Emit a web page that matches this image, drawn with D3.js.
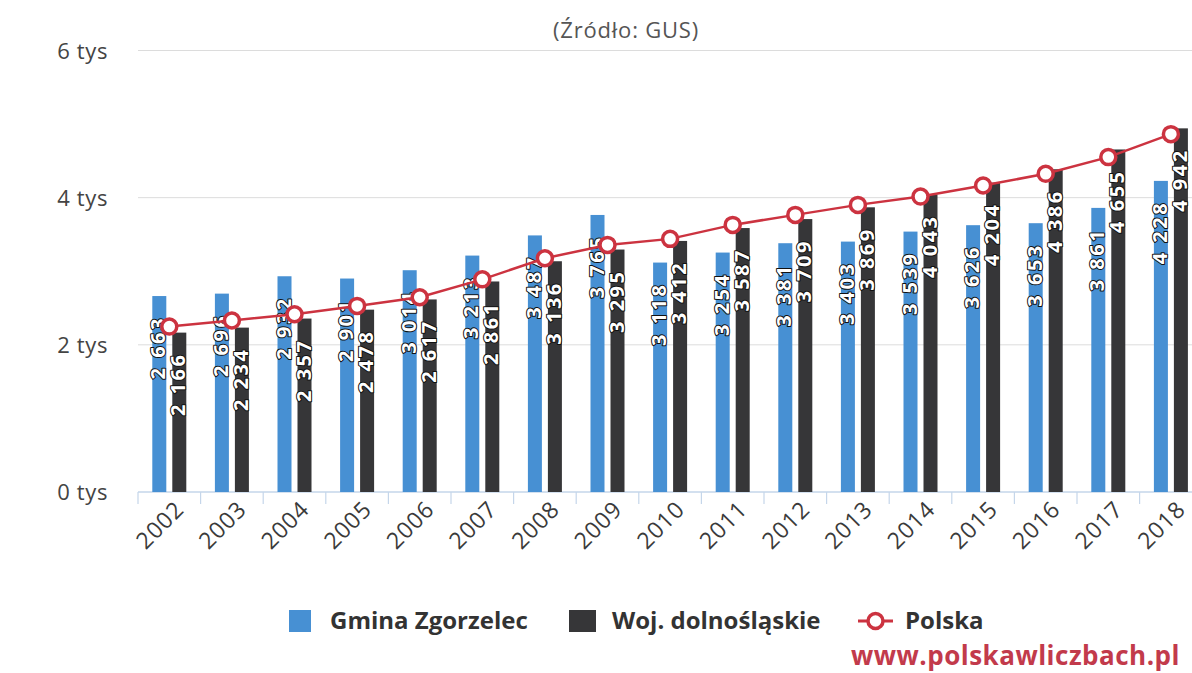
<!DOCTYPE html>
<html>
<head>
<meta charset="utf-8">
<script src="https://cdn.jsdelivr.net/npm/d3@7"></script>
<style>
  body { margin: 0; background: #fff; }
  svg { display: block; font-family: "Open Sans", "DejaVu Sans", sans-serif; }
</style>
</head>
<body>
<div id="page"></div>
<script>
// data (values in zł)
var years = ['2002', '2003', '2004', '2005', '2006', '2007', '2008', '2009', '2010',
    '2011', '2012', '2013', '2014', '2015', '2016', '2017', '2018'];
var gmina = [2663, 2696, 2932, 2901, 3014, 3213, 3487, 3765, 3118,
    3254, 3381, 3403, 3539, 3626, 3653, 3861, 4228];
var woj = [2166, 2234, 2357, 2478, 2617, 2861, 3136, 3295, 3412,
    3587, 3709, 3869, 4043, 4204, 4386, 4655, 4942];
var polska = [2248, 2330, 2416, 2529, 2647, 2890, 3177, 3358, 3440,
    3630, 3766, 3902, 4015, 4165, 4324, 4551, 4863];
var yTicks = [0, 2000, 4000, 6000];
var seriesNames = ['Gmina Zgorzelec', 'Woj. dolnośląskie', 'Polska'];

var W = 1192, H = 673;
var colBlue = '#4790d3', colDark = '#363638', colRed = '#cc3340';

var svg = d3.select('#page').append('svg').attr('width', W).attr('height', H);
svg.append('rect').attr('width', W).attr('height', H).attr('fill', '#fff');

var x = d3.scaleBand().domain(years).range([138, 138 + 17 * 62.6]).padding(0);
var x1 = d3.scaleBand().domain([0, 1]).range([-17, 17]).paddingInner(0.3);
var y = d3.scaleLinear().domain([0, 6000]).range([492, 50.5]);

// subtitle
svg.append('text').attr('x', 626).attr('y', 38).attr('text-anchor', 'middle')
    .attr('font-size', 22).attr('fill', '#555').attr('letter-spacing', 0.8).text('(Źródło: GUS)');

// grid
svg.append('g').selectAll('line').data(yTicks.filter(d => d > 0)).join('line')
    .attr('x1', 138).attr('x2', W).attr('y1', d => y(d)).attr('y2', d => y(d))
    .attr('stroke', '#dcdcdc').attr('stroke-width', 1);

// y labels
svg.append('g').selectAll('text').data(yTicks).join('text')
    .attr('x', 108).attr('y', d => y(d) + 8).attr('text-anchor', 'end')
    .attr('font-size', 22).attr('fill', '#444').attr('letter-spacing', 0.6)
    .text(d => (d / 1000) + ' tys');

// x axis
var xAxis = svg.append('g').attr('transform', 'translate(0,492)');
xAxis.append('line').attr('x1', 138).attr('x2', W).attr('stroke', '#c5d6ea').attr('stroke-width', 1.5);
xAxis.selectAll('.tick').data(years).join('line')
    .attr('x1', d => x(d)).attr('x2', d => x(d)).attr('y1', 0).attr('y2', 12)
    .attr('stroke', '#c5d6ea').attr('stroke-width', 1.2);
xAxis.selectAll('text').data(years).join('text')
    .attr('text-anchor', 'end').attr('font-size', 23).attr('fill', '#3a3a3a').attr('letter-spacing', 0.8)
    .attr('transform', d => 'translate(' + (x(d) + x.bandwidth() / 2 + 16) + ',19) rotate(-45)')
    .text(d => d);

// bars
var groups = [gmina, woj];
var colors = [colBlue, colDark];
groups.forEach((vals, s) => {
    svg.append('g').selectAll('rect').data(vals).join('rect')
        .attr('x', (d, i) => x(years[i]) + x.bandwidth() / 2 + x1(s))
        .attr('width', x1.bandwidth())
        .attr('y', d => y(d))
        .attr('height', d => y(0) - y(d))
        .attr('fill', colors[s]);
});

// data labels
function fmt(v) {
    var s = String(v);
    return s.length > 3 ? s.slice(0, s.length - 3) + ' ' + s.slice(-3) : s;
}
groups.forEach((vals, s) => {
    svg.append('g').selectAll('text').data(vals).join('text')
        .attr('transform', (d, i) => 'translate(' + (x(years[i]) + x.bandwidth() / 2 + x1(s) + x1.bandwidth() / 2 + 6) + ',' + (y(d) + 20) + ') rotate(-90)')
        .attr('text-anchor', 'end')
        .attr('font-size', 20).attr('font-weight', 'bold').attr('letter-spacing', 2.5)
        .attr('fill', '#fff').attr('stroke', '#111').attr('stroke-width', 2)
        .attr('paint-order', 'stroke').attr('stroke-linejoin', 'round')
        .text(d => fmt(d));
});

// Polska line
var line = d3.line().x((d, i) => x(years[i]) + x.bandwidth() / 2).y(d => y(d));
svg.append('path').datum(polska).attr('d', line)
    .attr('fill', 'none').attr('stroke', colRed).attr('stroke-width', 2.5);
svg.append('g').selectAll('circle').data(polska).join('circle')
    .attr('cx', (d, i) => x(years[i]) + x.bandwidth() / 2).attr('cy', d => y(d))
    .attr('r', 7.5).attr('fill', '#fff').attr('stroke', colRed).attr('stroke-width', 3.5);

// legend
var lg = svg.append('g').attr('font-size', 24).attr('font-weight', 'bold').attr('fill', '#333');
lg.append('rect').attr('x', 289).attr('y', 610).attr('width', 22).attr('height', 22).attr('fill', colBlue);
lg.append('text').attr('x', 330).attr('y', 629).text(seriesNames[0]);
lg.append('rect').attr('x', 569).attr('y', 610).attr('width', 27).attr('height', 22).attr('fill', colDark);
lg.append('text').attr('x', 612).attr('y', 629).text(seriesNames[1]);
lg.append('line').attr('x1', 858).attr('x2', 893).attr('y1', 621).attr('y2', 621)
    .attr('stroke', colRed).attr('stroke-width', 3);
lg.append('circle').attr('cx', 875.5).attr('cy', 621).attr('r', 7.5)
    .attr('fill', '#fff').attr('stroke', colRed).attr('stroke-width', 3.5);
lg.append('text').attr('x', 905).attr('y', 629).text(seriesNames[2]);

// watermark
svg.append('text').attr('x', 851).attr('y', 665).attr('font-size', 26).attr('font-weight', 'bold')
    .attr('letter-spacing', 0.5).attr('fill', '#c23a4b').text('www.polskawliczbach.pl');
</script>
</body>
</html>
